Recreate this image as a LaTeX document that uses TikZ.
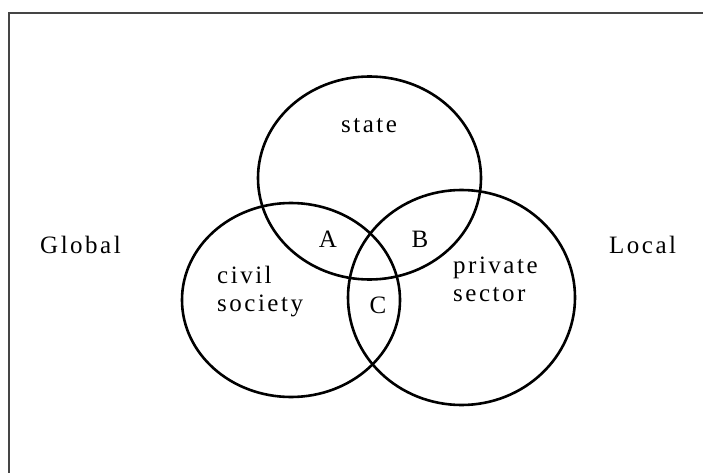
\documentclass[tikz,border=0pt]{standalone}
\usepackage{fontspec}
\setmainfont{Liberation Serif}[LetterSpace=10]
\usepackage{tikz}
\usetikzlibrary{shapes.geometric}
\definecolor{frameColor}{HTML}{454545}

\begin{document}
\begin{tikzpicture}[x=1pt, y=-1pt,
    ring/.style={ellipse, draw, line width=2.6pt, inner sep=0pt},
    lbl/.style={font=\fontsize{25}{28}\selectfont, inner sep=0pt}]
    \useasboundingbox (0,0) rectangle (703,473);
    % frame (left and top edge only)
    \draw[frameColor, line width=2pt] (9,473) -- (9,13) -- (703,13);

    % the three sets
    \node[ring, minimum width=223pt, minimum height=203pt] (state) at (369.5,178) {};
    \node[ring, minimum width=218pt, minimum height=194pt] (civil) at (291,300) {};
    \node[ring, minimum width=227pt, minimum height=215pt] (private) at (461.5,297.5) {};

    \node[lbl, anchor=base] (stateText) at (369,133) {state};
    \node[lbl, anchor=base west, align=left] (civilText) at (217,311) {civil\\society};
    \node[lbl, anchor=base west, align=left] (privateText) at (453,301) {private\\sector};

    % overlaps
    \node[lbl, anchor=base] (a) at (328,247) {A};
    \node[lbl, anchor=base] (b) at (420,247) {B};
    \node[lbl, anchor=base] (c) at (378,313) {C};

    \node[lbl, anchor=base west] (global) at (40,253) {Global};
    \node[lbl, anchor=base west] (local) at (609,253) {Local};
\end{tikzpicture}
\end{document}
